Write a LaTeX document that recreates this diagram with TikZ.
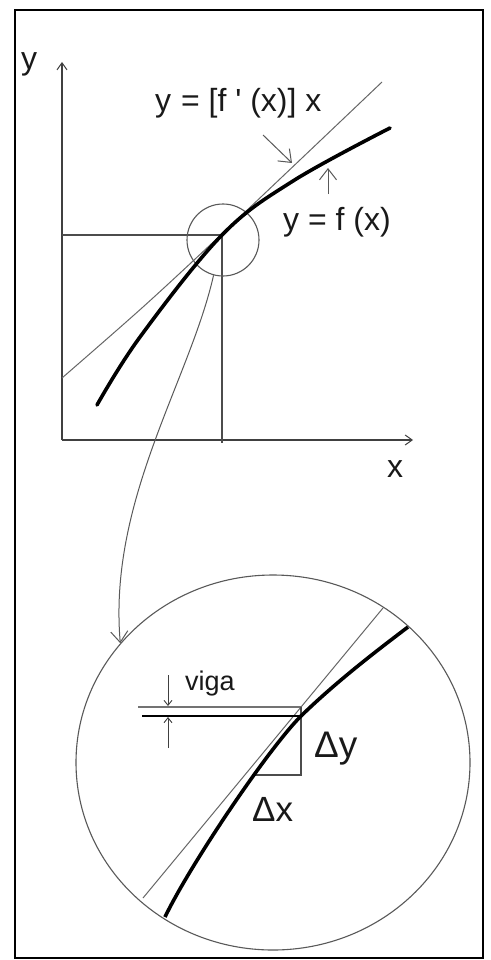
\documentclass[tikz,border=0pt]{standalone}
\usepackage{fontspec}
\setmainfont{Liberation Sans}[Ligatures=TeXOff]
\usetikzlibrary{arrows.meta,shapes.geometric}
\begin{document}
\begin{tikzpicture}[x=1pt,y=-1pt,
  thinline/.style={draw=black!60, line width=1pt},
  axisline/.style={draw=black!75, line width=1.4pt},
  guide/.style={draw=black!70, line width=1.3pt},
  bigcurve/.style={draw=black, line width=3.6pt, line cap=round},
  ring/.style={draw=black!65, line width=1.1pt, inner sep=0pt},
  axtip/.style={-{Straight Barb[length=7pt,width=10pt,line width=1pt]}},
  ptr/.style={draw=black!65, line width=1pt, -{Straight Barb[length=11pt,width=17pt,line width=1pt]}},
  dimtip/.style={draw=black!75, line width=1pt, -{Straight Barb[length=5pt,width=8pt,line width=0.9pt]}},
  lbl/.style={inner sep=0pt, text=black!90, font=\fontsize{32}{32}\selectfont},
  smalllbl/.style={inner sep=0pt, text=black!90, font=\fontsize{27}{27}\selectfont},
  deltalbl/.style={inner sep=0pt, text=black!90, font=\fontsize{37}{37}\selectfont}
]
\useasboundingbox (0,0) rectangle (490,960);
\fill[white] (0,0) rectangle (490,960);
\draw[line width=2.6pt] (15,10) rectangle (483,958);

% ---------- upper graph ----------
\coordinate (O) at (62,440);
\coordinate (ytop) at (62,62);
\coordinate (xend) at (413,440);
\coordinate (P) at (222,235);
\coordinate (Pleft) at (62,235);
\coordinate (Pfoot) at (222,443);

\draw[axisline, axtip] (O) -- (ytop);
\draw[axisline, axtip] (O) -- (xend);
\draw[guide] (Pleft) -- (P) -- (Pfoot);

\node[ring, circle, minimum size=72pt] (zoom) at (223,240) {};

\coordinate (tanA) at (62,378);
\coordinate (tanB) at (382,82);
\draw[thinline] plot[smooth, tension=0.5] coordinates
  {(tanA) (143,307) (225,231) (tanB)};
\draw[bigcurve] plot[smooth, tension=0.6] coordinates
  {(97,405) (140,337) (222,235) (293,181) (390,128)};

\node[lbl, anchor=base west] (ylab) at (21,70) {y};
\node[lbl, anchor=base west] (xlab) at (387,477) {x};
\node[lbl, anchor=base west] (tanlab) at (155,112) {y\kern1pt{} = [f ' (x)] x};
\node[lbl, anchor=base west] (flab) at (283,230) {y = f (x)};

\coordinate (tptrA) at (263,135);
\coordinate (tptrB) at (292,163);
\draw[ptr] (tptrA) -- (tptrB);
\coordinate (fptrA) at (328,194);
\coordinate (fptrB) at (328,168);
\draw[ptr] (fptrA) -- (fptrB);

% ---------- magnified view ----------
\node[ring, ellipse, minimum width=394pt, minimum height=375pt] (big) at (273,762.5) {};

\draw[ptr] (zoom.-105) .. controls (190,380) and (108,500) .. (big.142);

\coordinate (tA) at (143,898);
\coordinate (tB) at (383,608);
\draw[thinline] (tA) -- (tB);

\coordinate (Q) at (301,716);
\coordinate (Qt) at (301,707);
\coordinate (Qb) at (301,775);
\coordinate (Qbl) at (252,775);
\draw[draw=black!55, line width=1.2pt] (138,707) -- (Qt);
\draw[draw=black, line width=1.1pt] (142,716) -- (Q);
\draw[guide, line width=1.1pt] (Qt) -- (Qb) -- (Qbl);

\coordinate (cA) at (165,917);
\coordinate (cB) at (408,627);
\draw[bigcurve, line cap=butt] (cA) .. controls (190,865) and (268,749) .. (Q)
  .. controls (336,682) and (375,652) .. (cB);

\coordinate (vtop) at (168,675);
\coordinate (vtopTip) at (168,706);
\coordinate (vbot) at (168,748);
\coordinate (vbotTip) at (168,717);
\draw[dimtip] (vtop) -- (vtopTip);
\draw[dimtip] (vbot) -- (vbotTip);

\node[smalllbl, anchor=base west] (viga) at (185,690) {viga};
\node[deltalbl, anchor=base west] (dy) at (314,757) {Δy};
\node[deltalbl, font=\fontsize{35}{35}\selectfont, anchor=base west] (dx) at (252,821) {Δx};
\end{tikzpicture}
\end{document}
